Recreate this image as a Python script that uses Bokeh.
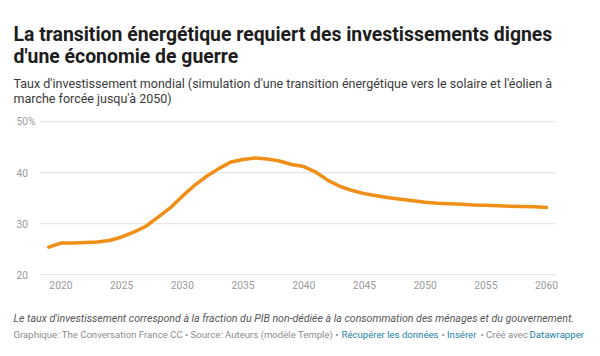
from bokeh.plotting import figure
from bokeh.models import Range1d, FixedTicker, Label
from bokeh.core.properties import value
from bokeh.layouts import column
from bokeh.embed import file_html
from bokeh.resources import INLINE

years = list(range(2019, 2061))
rate = [25.4, 26.2, 26.2, 26.3, 26.4, 26.7, 27.4, 28.35, 29.5, 31.3,
        33.1, 35.4, 37.5, 39.3, 40.8, 42.1, 42.6, 42.9, 42.7, 42.3,
        41.6, 41.2, 40.1, 38.5, 37.3, 36.5, 35.9, 35.5, 35.1, 34.8,
        34.5, 34.2, 34.0, 33.9, 33.8, 33.65, 33.6, 33.5, 33.4, 33.35,
        33.3, 33.2]
x_ticks = [2020, 2025, 2030, 2035, 2040, 2045, 2050, 2055, 2060]
y_ticks = [20, 30, 40, 50]
y_tick_labels = ["20", "30", "40", "50%"]

title_lines = ["La transition énergétique requiert des investissements dignes",
               "d'une économie de guerre"]
subtitle_lines = ["Taux d'investissement mondial (simulation d'une transition énergétique vers le solaire et l'éolien à",
                  "marche forcée jusqu'à 2050)"]
note = "Le taux d'investissement correspond à la fraction du PIB non-dédiée à la consommation des ménages et du gouvernement."
credit_texts = ["Graphique: The Conversation France CC • Source: Auteurs (modèle Temple) •",
                "Récupérer les données", "•", "Insérer", "• Créé avec", "Datawrapper"]
credit_colors = ["#8c8c8c", "#1d81a2", "#8c8c8c", "#1d81a2", "#8c8c8c", "#1d81a2"]

# ---- layout / style ----
FONT = "Roboto"
W = 600
CHART_H, FOOT_H = 306, 50
FRAME_B = 282                 # chart frame bottom (canvas px)
Y20_PX = 274.2                # canvas px of the 20 gridline
PX_YEAR = 12.14
PX_UNIT = 5.1
X0, X1 = 2018.316, 2060.74    # plot-area extent (gridline span)
XR0 = X0 - 40 / PX_YEAR
XR1 = XR0 + W / PX_YEAR
YR0 = 20 - (FRAME_B - Y20_PX) / PX_UNIT
YR1 = YR0 + FRAME_B / PX_UNIT
credit_x = [13, 341, 441, 446.5, 480, 529]

p = figure(width=W, height=CHART_H, output_backend="svg", toolbar_location=None,
           x_range=Range1d(XR0, XR1), y_range=Range1d(YR0, YR1),
           y_axis_location=None,
           min_border_left=0, min_border_right=0, min_border_top=0,
           min_border_bottom=CHART_H - FRAME_B,
           background_fill_color="white", border_fill_color="white",
           outline_line_color=None)

p.xgrid.visible = False
p.ygrid.visible = False
# horizontal gridlines spanning the plot area only
p.segment(x0=[X0] * len(y_ticks), x1=[X1] * len(y_ticks), y0=y_ticks, y1=y_ticks,
          line_color="#e1e1e1", line_width=1)

xa = p.xaxis[0]
xa.ticker = FixedTicker(ticks=x_ticks)
xa.axis_line_color = None
xa.major_tick_line_color = None
xa.minor_tick_line_color = None
xa.major_tick_out = 0
xa.major_tick_in = 0
xa.minor_tick_out = 0
xa.major_label_standoff = -2
xa.major_label_text_font = FONT
xa.major_label_text_font_size = "10.3px"
xa.major_label_text_color = "#9a9a9a"

# y tick labels, left aligned at the start of the plot area
p.text(x=[X0] * len(y_ticks), y=y_ticks, text=y_tick_labels,
       x_offset=-24, text_align="left", text_baseline="middle",
       text_font=value(FONT), text_font_size="10.3px",
       text_color="#9a9a9a")

p.line(years, rate, line_color="#ef8f17", line_width=3.5,
       line_join="round", line_cap="round")


def add_text(f, fb, text, cx, cy, size, color, style="normal"):
    f.add_layout(Label(x=cx, y=fb - cy, x_units="screen", y_units="screen",
                       text=text, text_align="left", text_baseline="middle",
                       text_font=FONT, text_font_size=size, text_color=color,
                       text_font_style=style))


add_text(p, FRAME_B, title_lines[0], 13, 33.5, "19.4px", "#1d1d1d", "bold")
add_text(p, FRAME_B, title_lines[1], 13, 56, "19.4px", "#1d1d1d", "bold")
add_text(p, FRAME_B, subtitle_lines[0], 13, 83, "12.5px", "#3a3a3a")
add_text(p, FRAME_B, subtitle_lines[1], 13, 98, "12.5px", "#3a3a3a")

foot = figure(width=W, height=FOOT_H, output_backend="svg", toolbar_location=None,
              x_range=Range1d(0, W), y_range=Range1d(0, FOOT_H),
              x_axis_location=None, y_axis_location=None, min_border=0,
              outline_line_color=None,
              background_fill_color="white", border_fill_color="white")
foot.grid.visible = False

add_text(foot, FOOT_H, note, 13, 12, "10.6px", "#555555", "italic")
for txt, col, cx in zip(credit_texts, credit_colors, credit_x):
    add_text(foot, FOOT_H, txt, cx, 28, "9.6px", col)

layout = column(p, foot, spacing=0)
open("out.html", "w").write(file_html(layout, INLINE))
